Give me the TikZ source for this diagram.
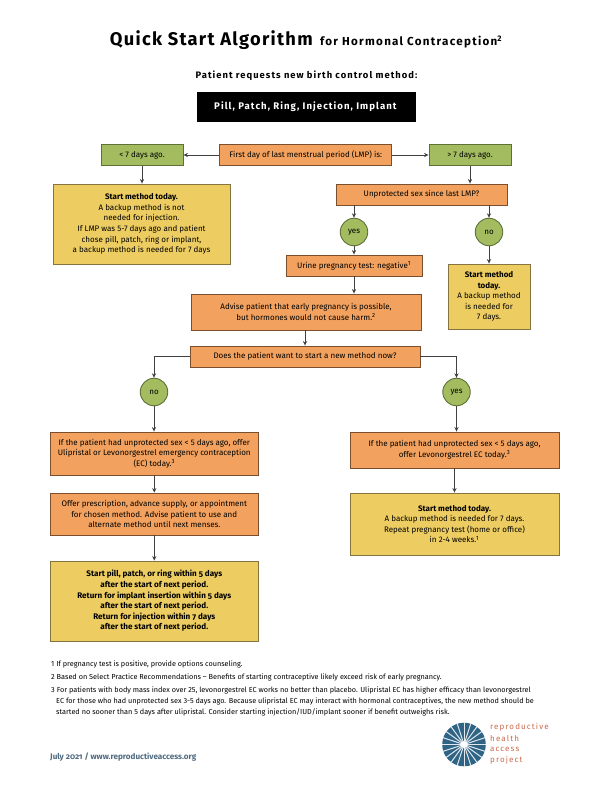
\documentclass[tikz,border=0pt]{standalone}
\usepackage{fontspec}
\setmainfont{Fira Sans}
\newfontfamily\spacedfont[LetterSpace=7]{Fira Sans}
\newfontfamily\widefont[LetterSpace=11]{Fira Sans}
\newfontfamily\oldstylefont[Numbers=OldStyle]{Fira Sans}
\newfontfamily\logofont[LetterSpace=14]{Fira Sans}
\usetikzlibrary{arrows.meta}

\definecolor{boxorange}{HTML}{F2A25E}
\definecolor{boxyellow}{HTML}{EDCD62}
\definecolor{boxgreen}{HTML}{A3BC60}
\definecolor{edgeorange}{HTML}{7A4F2E}
\definecolor{edgeyellow}{HTML}{857440}
\definecolor{edgegreen}{HTML}{5E7036}
\definecolor{logoblue}{HTML}{2F6485}
\definecolor{logored}{HTML}{C9684A}
\definecolor{footgray}{HTML}{4F6A80}

\tikzset{
  flow/.style={draw=black!75, line width=.7pt, -{Stealth[length=4.5pt,width=4.2pt]}},
  plainbox/.style={line width=.9pt, align=center, inner sep=0pt,
    font=\fontsize{8}{10.6}\selectfont},
  orangebox/.style={plainbox, fill=boxorange, draw=edgeorange},
  yellowbox/.style={plainbox, fill=boxyellow, draw=edgeyellow},
  greenbox/.style={plainbox, fill=boxgreen, draw=edgegreen},
  choice/.style={greenbox, shape=circle, minimum size=27.5pt},
  boldlines/.style={font=\oldstylefont\fontsize{8.1}{10.6}\bfseries\selectfont},
  note/.style={anchor=north west, align=left, inner sep=0pt,
    font=\fontsize{7.3}{11}\selectfont},
  logotext/.style={anchor=west, inner sep=0pt, text=logored,
    font=\logofont\fontsize{8}{10}\selectfont}
}

\begin{document}
\begin{tikzpicture}[x=1pt, y=-1pt]
    \useasboundingbox (0,0) rectangle (612,792);

    % heading
    \node (title) [inner sep=0pt] at (306,40)
      {\spacedfont\fontsize{18.3}{20}\selectfont\textbf{Quick Start Algorithm}
       \widefont\fontsize{11.6}{12}\selectfont\textbf{for Hormonal Contraception\textsuperscript{2}}};
    \node (request) [inner sep=0pt] at (307,76)
      {\widefont\fontsize{9.4}{10}\selectfont\textbf{Patient requests new birth control method:}};
    \node (methods) [fill=black, text=white, inner sep=0pt, minimum width=219pt, minimum height=30pt] at (306,107)
      {\widefont\fontsize{9.6}{10}\selectfont\textbf{Pill, Patch, Ring, Injection, Implant}};

    % top row
    \node (lmp) [orangebox, minimum width=172pt, minimum height=21pt] at (305.7,155)
      {First day of last menstrual period (LMP) is:};
    \node (under) [greenbox, minimum width=82pt, minimum height=21pt] at (142,155) {< 7 days ago.};
    \node (over) [greenbox, minimum width=82pt, minimum height=21pt] at (470,155) {> 7 days ago.};

    % left hand
    \node (today) [yellowbox, minimum width=177pt, minimum height=80pt] at (141.5,224)
      {\textbf{Start method today.}\\A backup method is not\\needed for injection.\\
       If LMP was 5-7 days ago and patient\\chose pill, patch, ring or implant,\\
       a backup method is needed for 7 days};

    % right hand
    \node (sex) [orangebox, minimum width=171pt, minimum height=21pt] at (421.5,194.5)
      {Unprotected sex since last LMP?};
    \node (yes) [choice] at (354,232) {yes};
    \node (no) [choice] at (489,232) {no};
    \node (urine) [orangebox, minimum width=136pt, minimum height=21pt] at (354,265.5)
      {Urine pregnancy test: negative\textsuperscript{1}};
    \node (quick) [yellowbox, minimum width=82pt, minimum height=65pt] at (489,296.5)
      {\textbf{Start method}\\\textbf{today.}\\A backup method\\is needed for\\7 days.};
    \node (advise) [orangebox, minimum width=230pt, minimum height=36pt] at (306,312)
      {Advise patient that early pregnancy is possible,\\but hormones would not cause harm.\textsuperscript{2}};
    \node (ask) [orangebox, minimum width=230pt, minimum height=21pt] at (305,356.5)
      {Does the patient want to start a new method now?};
    \node (no2) [choice] at (154,392) {no};
    \node (yes2) [choice] at (456.5,392) {yes};

    % lower left
    \node (ecleft) [orangebox, minimum width=208.7pt, minimum height=43pt] at (154.3,453.5)
      {If the patient had unprotected sex < 5 days ago, offer\\
       Ulipristal or Levonorgestrel emergency contraception\\(EC) today.\textsuperscript{3}};
    \node (offer) [orangebox, minimum width=208.7pt, minimum height=42pt] at (154.3,514)
      {Offer prescription, advance supply, or appointment\\
       for chosen method. Advise patient to use and\\alternate method until next menses.};
    \node (later) [yellowbox, boldlines, minimum width=208.7pt, minimum height=80pt] at (154.3,601)
      {Start pill, patch, or ring within 5 days\\after the start of next period.\\
       Return for implant insertion within 5 days\\after the start of next period.\\
       Return for injection within 7 days\\after the start of next period.};

    % lower right
    \node (ecright) [orangebox, minimum width=209pt, minimum height=36pt] at (454.5,450)
      {If the patient had unprotected sex < 5 days ago,\\offer Levonorgestrel EC today.\textsuperscript{3}};
    \node (repeat) [yellowbox, minimum width=209pt, minimum height=62pt] at (454.5,524)
      {\textbf{Start method today.}\\A backup method is needed for 7 days.\\
       Repeat pregnancy test (home or office)\\in 2-4 weeks.\textsuperscript{1}};

    % connectors
    \draw[flow] (lmp) -- (under);
    \draw[flow] (lmp) -- (over);
    \draw[flow] (under) -- (under |- today.north);
    \draw[flow] (over) -- (over |- sex.north);
    \draw[flow] (yes |- sex.south) -- (yes);
    \draw[flow] (no |- sex.south) -- (no);
    \draw[flow] (yes) -- (urine);
    \draw[flow] (no) -- (quick);
    \draw[flow] (urine) -- (urine |- advise.north);
    \draw[flow] (ask.north |- advise.south) -- (ask);
    \draw[flow] (ask.west) -| (no2);
    \draw[flow] (ask.east) -| (yes2);
    \draw[flow] (no2) -- (no2 |- ecleft.north);
    \draw[flow] (yes2) -- (yes2 |- ecright.north);
    \draw[flow] (ecleft) -- (offer);
    \draw[flow] (offer) -- (later);
    \draw[flow] (ecright) -- (repeat);

    % notes
    \node (note1) [note] at (51,660.5) {1 If pregnancy test is positive, provide options counseling.};
    \node (note2) [note] at (51,673.5) {2 Based on Select Practice Recommendations -- Benefits of starting contraceptive likely exceed risk of early pregnancy.};
    \node (note3) [note] at (51,686.5) {3 For patients with body mass index over 25, levonorgestrel EC works no better than placebo. Ulipristal EC has higher efficacy than levonorgestrel\\
      \hspace*{5pt}EC for those who had unprotected sex 3-5 days ago. Because ulipristal EC may interact with hormonal contraceptives, the new method should be\\
      \hspace*{5pt}started no sooner than 5 days after ulipristal. Consider starting injection/IUD/implant sooner if benefit outweighs risk.};
    \node (date) [anchor=west, inner sep=0pt, text=footgray] at (50,757)
      {\oldstylefont\fontsize{8.1}{10}\selectfont\textbf{July 2021 / www.reproductiveaccess.org}};

    % logo
    \fill[logoblue] (464,744.5) circle (21.8);
    \foreach \ang in {0,18,...,342}
      \draw[white!85!logoblue, line width=1pt] (464,744.5) -- ++(\ang:22.3);
    \fill[white] (464,744.5) circle (3.4);
    \node (reproductive) [logotext] at (490,727.5) {reproductive};
    \node (health) [logotext] at (490,738.5) {health};
    \node (access) [logotext] at (490,749.5) {access};
    \node (project) [logotext] at (490,760.5) {project};
\end{tikzpicture}
\end{document}
